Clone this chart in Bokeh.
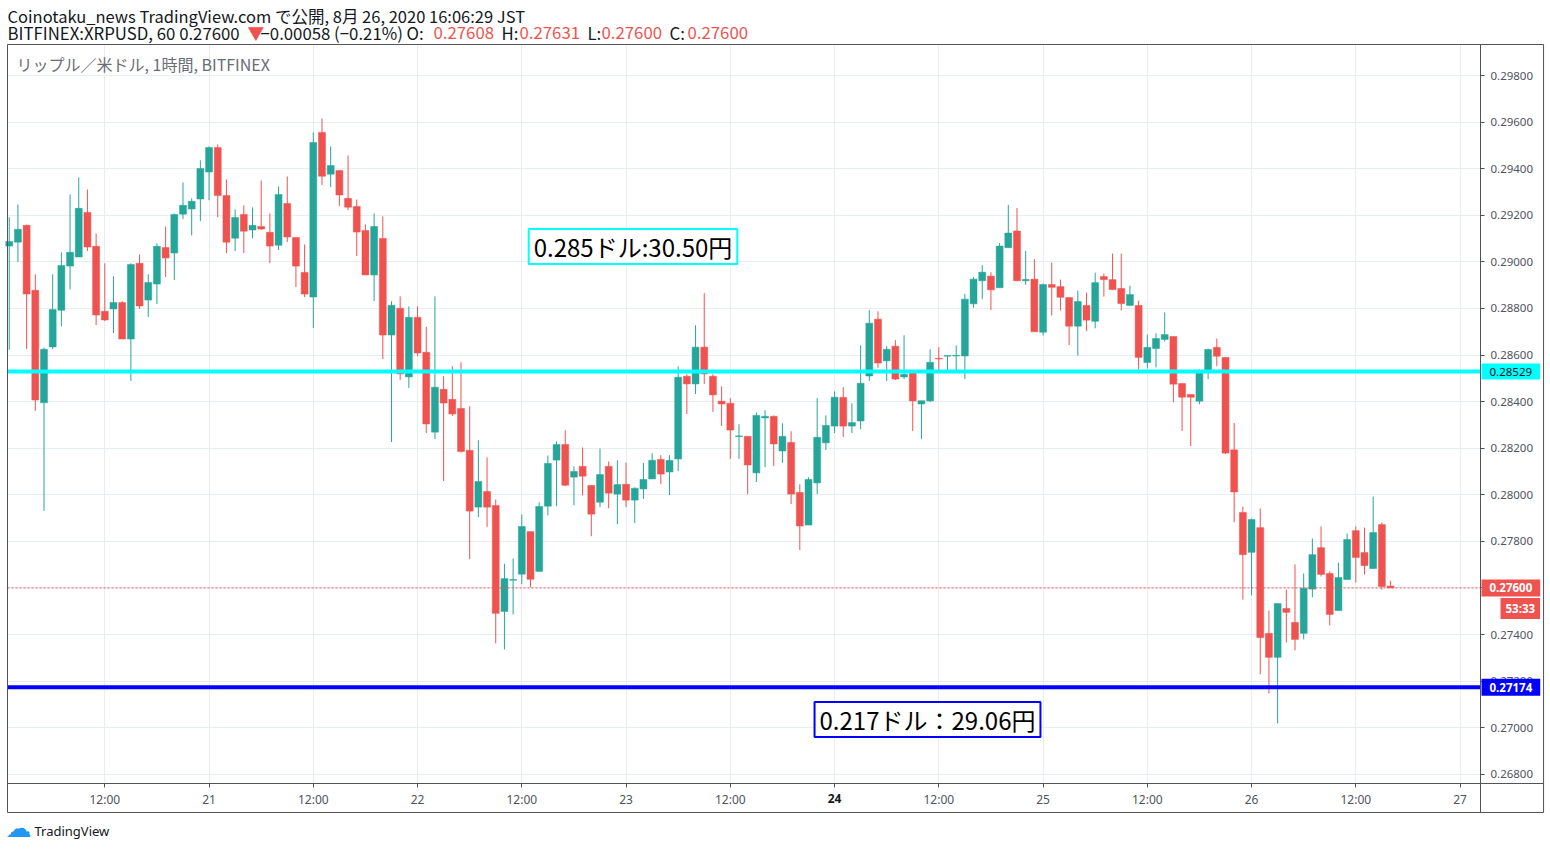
from bokeh.plotting import figure
from bokeh.models import (Range1d, FixedTicker, Label, BoxAnnotation,
                          ColumnDataSource, PrintfTickFormatter)
from bokeh.embed import file_html
from bokeh.resources import INLINE

# hour index since 2020-08-20 00:00 JST (1h candles, open time)
hours = list(range(1, 161))

opens = [0.29068, 0.29085, 0.29157, 0.28878, 0.28395, 0.28635, 0.28792, 0.28982, 0.29021, 0.29212,
         0.29067, 0.28788, 0.28798, 0.28826, 0.28669, 0.28994, 0.28836, 0.28905, 0.29062, 0.29038,
         0.29205, 0.29227, 0.29270, 0.29386, 0.29491, 0.29285, 0.29102, 0.29204, 0.29137, 0.29152,
         0.29127, 0.29072, 0.29251, 0.29105, 0.28955, 0.28849, 0.29556, 0.29377, 0.29393, 0.29273,
         0.29238, 0.29135, 0.28944, 0.29101, 0.28686, 0.28801, 0.28506, 0.28762, 0.28612, 0.28269,
         0.28453, 0.28410, 0.28371, 0.28191, 0.27947, 0.28014, 0.27954, 0.27499, 0.27633, 0.27659,
         0.27842, 0.27671, 0.27951, 0.28149, 0.28216, 0.28076, 0.28122, 0.28040, 0.27968, 0.28122,
         0.28003, 0.28045, 0.27977, 0.28025, 0.28068, 0.28152, 0.28098, 0.28154, 0.28509, 0.28476,
         0.28634, 0.28509, 0.28402, 0.28393, 0.28250, 0.28251, 0.28094, 0.28330, 0.28337, 0.28188,
         0.28225, 0.28010, 0.27870, 0.28051, 0.28223, 0.28295, 0.28418, 0.28295, 0.28317, 0.28510,
         0.28754, 0.28575, 0.28638, 0.28506, 0.28526, 0.28390, 0.28403, 0.28586, 0.28595, 0.28596,
         0.28596, 0.28820, 0.28919, 0.28939, 0.28889, 0.29061, 0.29133, 0.28919, 0.28926, 0.28698,
         0.28903, 0.28894, 0.28847, 0.28724, 0.28813, 0.28745, 0.28937, 0.28924, 0.28886, 0.28813,
         0.28813, 0.28568, 0.28628, 0.28667, 0.28680, 0.28478, 0.28431, 0.28402, 0.28535, 0.28633,
         0.28590, 0.28193, 0.27924, 0.27753, 0.27859, 0.27405, 0.27302, 0.27512, 0.27452, 0.27405,
         0.27595, 0.27773, 0.27662, 0.27503, 0.27636, 0.27846, 0.27752, 0.27683, 0.27872, 0.27608]
highs = [0.29192, 0.29247, 0.29160, 0.28947, 0.28632, 0.28947, 0.29041, 0.29290, 0.29363, 0.29311,
         0.29122, 0.28994, 0.28938, 0.28831, 0.28994, 0.29032, 0.28947, 0.29080, 0.29152, 0.29208,
         0.29341, 0.29273, 0.29436, 0.29496, 0.29504, 0.29354, 0.29225, 0.29243, 0.29234, 0.29350,
         0.29208, 0.29324, 0.29367, 0.29105, 0.29075, 0.29556, 0.29616, 0.29496, 0.29393, 0.29457,
         0.29268, 0.29161, 0.29208, 0.29195, 0.28831, 0.28852, 0.28809, 0.28809, 0.28721, 0.28852,
         0.28509, 0.28552, 0.28569, 0.28380, 0.28234, 0.28160, 0.27980, 0.27704, 0.27726, 0.27915,
         0.27842, 0.27968, 0.28169, 0.28229, 0.28277, 0.28122, 0.28203, 0.28040, 0.28199, 0.28143,
         0.28148, 0.28138, 0.28032, 0.28137, 0.28178, 0.28170, 0.28170, 0.28552, 0.28518, 0.28728,
         0.28866, 0.28518, 0.28466, 0.28415, 0.28303, 0.28251, 0.28354, 0.28363, 0.28341, 0.28307,
         0.28273, 0.28045, 0.28075, 0.28415, 0.28341, 0.28444, 0.28462, 0.28393, 0.28642, 0.28793,
         0.28788, 0.28638, 0.28664, 0.28685, 0.28535, 0.28404, 0.28625, 0.28634, 0.28598, 0.28642,
         0.28862, 0.28935, 0.28986, 0.28956, 0.29081, 0.29245, 0.29232, 0.29047, 0.29012, 0.28907,
         0.28997, 0.28924, 0.28847, 0.28877, 0.28868, 0.28954, 0.28950, 0.29036, 0.29036, 0.28898,
         0.28834, 0.28688, 0.28693, 0.28783, 0.28680, 0.28478, 0.28431, 0.28538, 0.28628, 0.28671,
         0.28590, 0.28308, 0.27949, 0.27898, 0.27941, 0.27503, 0.27533, 0.27593, 0.27701, 0.27662,
         0.27812, 0.27864, 0.27671, 0.27709, 0.27834, 0.27864, 0.27859, 0.27992, 0.27881, 0.27631]
lows = [0.28623, 0.29000, 0.28626, 0.28360, 0.27931, 0.28626, 0.28723, 0.28882, 0.29021, 0.29047,
        0.28729, 0.28746, 0.28695, 0.28669, 0.28489, 0.28798, 0.28763, 0.28819, 0.28935, 0.28922,
        0.29184, 0.29114, 0.29175, 0.29265, 0.29192, 0.29038, 0.29047, 0.29038, 0.29102, 0.29137,
        0.28995, 0.29051, 0.29085, 0.28892, 0.28849, 0.28716, 0.29330, 0.29321, 0.29240, 0.29222,
        0.29025, 0.28944, 0.28832, 0.28583, 0.28227, 0.28493, 0.28459, 0.28596, 0.28265, 0.28239,
        0.28059, 0.28338, 0.28182, 0.27723, 0.27904, 0.27861, 0.27362, 0.27336, 0.27486, 0.27616,
        0.27603, 0.27671, 0.27912, 0.27951, 0.28037, 0.27955, 0.27997, 0.27822, 0.27947, 0.27942,
        0.27874, 0.27947, 0.27879, 0.27982, 0.28068, 0.28046, 0.27999, 0.28102, 0.28347, 0.28433,
        0.28476, 0.28356, 0.28296, 0.28154, 0.28154, 0.28003, 0.28055, 0.28119, 0.28124, 0.28137,
        0.27960, 0.27763, 0.27870, 0.28003, 0.28192, 0.28265, 0.28248, 0.28265, 0.28282, 0.28489,
        0.28545, 0.28489, 0.28493, 0.28497, 0.28274, 0.28239, 0.28398, 0.28527, 0.28527, 0.28523,
        0.28497, 0.28803, 0.28840, 0.28793, 0.28889, 0.29061, 0.28919, 0.28902, 0.28700, 0.28685,
        0.28770, 0.28791, 0.28643, 0.28598, 0.28703, 0.28715, 0.28851, 0.28881, 0.28791, 0.28813,
        0.28538, 0.28542, 0.28547, 0.28658, 0.28398, 0.28274, 0.28209, 0.28389, 0.28497, 0.28552,
        0.28175, 0.27882, 0.27550, 0.27568, 0.27229, 0.27147, 0.27018, 0.27366, 0.27332, 0.27379,
        0.27560, 0.27649, 0.27439, 0.27503, 0.27636, 0.27623, 0.27658, 0.27683, 0.27593, 0.27600]
closes = [0.29088, 0.29140, 0.28862, 0.28407, 0.28625, 0.28796, 0.28985, 0.29041, 0.29230, 0.29064,
          0.28772, 0.28751, 0.28826, 0.28669, 0.28989, 0.28811, 0.28912, 0.29067, 0.29017, 0.29204,
          0.29243, 0.29260, 0.29401, 0.29491, 0.29285, 0.29085, 0.29191, 0.29132, 0.29157, 0.29141,
          0.29068, 0.29290, 0.29107, 0.28982, 0.28862, 0.29513, 0.29368, 0.29414, 0.29287, 0.29235,
          0.29128, 0.28944, 0.29152, 0.28686, 0.28814, 0.28519, 0.28762, 0.28609, 0.28304, 0.28462,
          0.28394, 0.28347, 0.28186, 0.27930, 0.28057, 0.27947, 0.27491, 0.27640, 0.27636, 0.27864,
          0.27637, 0.27950, 0.28135, 0.28216, 0.28041, 0.28100, 0.28080, 0.27917, 0.28087, 0.28007,
          0.28044, 0.27977, 0.28028, 0.28066, 0.28148, 0.28089, 0.28148, 0.28505, 0.28476, 0.28634,
          0.28519, 0.28429, 0.28390, 0.28278, 0.28253, 0.28128, 0.28341, 0.28337, 0.28218, 0.28251,
          0.28003, 0.27866, 0.28066, 0.28247, 0.28298, 0.28419, 0.28295, 0.28310, 0.28479, 0.28737,
          0.28566, 0.28625, 0.28497, 0.28517, 0.28403, 0.28404, 0.28569, 0.28583, 0.28598, 0.28599,
          0.28840, 0.28926, 0.28956, 0.28880, 0.29068, 0.29124, 0.28919, 0.28925, 0.28700, 0.28903,
          0.28891, 0.28848, 0.28724, 0.28830, 0.28750, 0.28911, 0.28924, 0.28881, 0.28821, 0.28860,
          0.28590, 0.28633, 0.28671, 0.28688, 0.28475, 0.28419, 0.28419, 0.28530, 0.28624, 0.28595,
          0.28179, 0.28012, 0.27743, 0.27894, 0.27387, 0.27302, 0.27533, 0.27495, 0.27379, 0.27599,
          0.27743, 0.27658, 0.27486, 0.27645, 0.27808, 0.27731, 0.27696, 0.27838, 0.27606, 0.27600]

resistance_price = 0.28529
support_price = 0.27174
last_price = 0.27600

x_tick_hours = [12, 24, 36, 48, 60, 72, 84, 96, 108, 120, 132, 144, 156, 168]
x_tick_labels = ["12:00", "21", "12:00", "22", "12:00", "23", "12:00", "24",
                 "12:00", "25", "12:00", "26", "12:00", "27"]
y_ticks = [0.268, 0.270, 0.272, 0.274, 0.276, 0.278, 0.280, 0.282,
           0.284, 0.286, 0.288, 0.290, 0.292, 0.294, 0.296, 0.298]

# layout of the TradingView pane (data units of the two scales)
PANE_LEFT, PANE_RIGHT, BOX_RIGHT = 0.80, 170.35, 177.61
PANE_TOP, PANE_BOTTOM, BOX_BOTTOM = 0.299337, 0.267602, 0.266357
TAG_X = 170.47

UP = "#26a69a"
DOWN = "#ef5350"
TXT = "#131722"
AXC = "#50535e"
GRID = "#e6edf3"
LAT = "Noto Sans"
JP = "Noto Sans CJK JP"
W, H = 1548, 847

colors = [UP if c >= o else DOWN for o, c in zip(opens, closes)]
tops = [max(o, c) for o, c in zip(opens, closes)]
bots = [min(o, c) for o, c in zip(opens, closes)]
min_body = 0.00003
tops = [t if t - b >= min_body else b + min_body for t, b in zip(tops, bots)]

src = ColumnDataSource(dict(x=hours, o=opens, h=highs, l=lows, c=closes,
                            top=tops, bottom=bots, color=colors))

p = figure(frame_width=W, frame_height=H,
           min_border_left=0, min_border_top=0, min_border_right=0, min_border_bottom=0,
           x_range=Range1d(-0.006, 178.18), y_range=Range1d(0.264854, 0.301226),
           y_axis_location="right", output_backend="svg", toolbar_location=None)
p.background_fill_color = "white"
p.border_fill_color = "white"
p.outline_line_color = None

# grid
p.xgrid.ticker = FixedTicker(ticks=x_tick_hours)
p.ygrid.ticker = FixedTicker(ticks=y_ticks)
p.xgrid.grid_line_color = GRID
p.ygrid.grid_line_color = GRID

# white masks so the grid stays inside the price pane
for kw in (dict(left=PANE_RIGHT), dict(right=PANE_LEFT), dict(top=PANE_BOTTOM), dict(bottom=PANE_TOP)):
    p.add_layout(BoxAnnotation(fill_color="white", fill_alpha=1, line_color=None,
                               level="underlay", **kw))

# x axis (time scale) drawn at the pane bottom
p.xaxis.fixed_location = PANE_BOTTOM
p.xaxis.bounds = (PANE_LEFT, BOX_RIGHT)
p.xaxis.ticker = FixedTicker(ticks=x_tick_hours)
p.xaxis.major_label_overrides = {h: (lab if lab != "24" else "") for h, lab in zip(x_tick_hours, x_tick_labels)}
p.xaxis.axis_line_color = AXC
p.xaxis.major_tick_line_color = AXC
p.xaxis.major_tick_out = 4
p.xaxis.major_tick_in = 0
p.xaxis.minor_tick_line_color = None
p.xaxis.major_label_text_font = LAT
p.xaxis.major_label_text_font_size = "12px"
p.xaxis.major_label_text_color = AXC
p.xaxis.major_label_standoff = 3

# y axis (price scale) drawn at the pane right edge
p.yaxis.fixed_location = PANE_RIGHT
p.yaxis.bounds = (BOX_BOTTOM, PANE_TOP)
p.yaxis.ticker = FixedTicker(ticks=y_ticks)
p.yaxis.formatter = PrintfTickFormatter(format="%.5f")
p.yaxis.axis_line_color = AXC
p.yaxis.major_tick_line_color = AXC
p.yaxis.major_tick_out = 4
p.yaxis.major_tick_in = 0
p.yaxis.minor_tick_line_color = None
p.yaxis.major_label_text_font = LAT
p.yaxis.major_label_text_font_size = "11.5px"
p.yaxis.major_label_text_color = AXC
p.yaxis.major_label_standoff = 6

# outer border of the chart
p.add_layout(BoxAnnotation(left=PANE_LEFT, right=BOX_RIGHT, top=PANE_TOP, bottom=BOX_BOTTOM,
                           fill_color=None, line_color=AXC, line_width=1, line_alpha=1))

# candles
p.segment(x0="x", y0="h", x1="x", y1="l", source=src, line_color="color", line_width=1)
p.vbar(x="x", width=0.8, top="top", bottom="bottom", source=src,
       fill_color="color", line_color="color", line_width=0.5)

# horizontal lines across the pane
hl = ColumnDataSource(dict(y=[resistance_price, support_price],
                           x0=[PANE_LEFT, PANE_LEFT], x1=[PANE_RIGHT, PANE_RIGHT],
                           color=["#00ffff", "#0000ff"]))
p.segment(x0="x0", y0="y", x1="x1", y1="y", source=hl, line_color="color", line_width=4)
p.segment(x0=[PANE_LEFT], y0=[last_price], x1=[PANE_RIGHT], y1=[last_price],
          line_color=DOWN, line_width=1, line_dash="2 2")

# price tags on the scale
def tag(y, text, bg, fg, bold):
    p.add_layout(Label(x=TAG_X, y=y, text=text, text_align="left", text_baseline="middle",
                       text_font=LAT, text_font_size="11.5px",
                       text_font_style="bold" if bold else "normal", text_color=fg,
                       background_fill_color=bg, padding=(8, 4)))

tag(resistance_price, "0.28529", "#00ffff", TXT, False)
tag(last_price, "0.27600", DOWN, "white", True)
tag(support_price, "0.27174", "#0000ff", "white", True)
p.add_layout(Label(x=1500, y=H - 608, x_units="screen", y_units="screen", text="53:33",
                   text_align="left", text_baseline="middle", text_font=LAT,
                   text_font_size="11.5px", text_font_style="bold", text_color="white",
                   background_fill_color=DOWN, padding=(5, 3)))

# bold Monday label on the time scale
p.add_layout(Label(x=96, y=H - 798, y_units="screen", text="24", text_align="center",
                   text_baseline="middle", text_font=LAT, text_font_size="12px",
                   text_font_style="bold", text_color=TXT))

# annotation boxes
p.add_layout(Label(x=632.5, y=H - 246, x_units="screen", y_units="screen",
                   text="0.285ドル:30.50円", text_align="center", text_baseline="middle",
                   text_font=JP, text_font_size="24px", text_color="black",
                   background_fill_color="white", border_line_color="#00ffff",
                   border_line_width=2, padding=(5, 0)))
p.add_layout(Label(x=927, y=H - 719, x_units="screen", y_units="screen",
                   text="0.217ドル：29.06円", text_align="center", text_baseline="middle",
                   text_font=JP, text_font_size="24px", text_color="black",
                   background_fill_color="white", border_line_color="#0000ff",
                   border_line_width=2, padding=(5, 0)))

# pane legend
p.add_layout(Label(x=16, y=H - 63, x_units="screen", y_units="screen",
                   text="リップル／米ドル, 1時間, BITFINEX", text_align="left",
                   text_baseline="middle", text_font=JP, text_font_size="16px",
                   text_color="#6a6d78"))

# header
p.add_layout(Label(x=7, y=H - 15, x_units="screen", y_units="screen",
                   text="Coinotaku_news TradingView.com で公開, 8月 26, 2020 16:06:29 JST",
                   text_align="left", text_baseline="middle", text_font=JP,
                   text_font_size="16.5px", text_color=TXT))
segs = [(7, "BITFINEX:XRPUSD, 60 0.27600", TXT), (247, "▼", DOWN),
        (260, "−0.00058 (−0.21%) O:", TXT), (433, "0.27608", DOWN),
        (501, "H:", TXT), (519, "0.27631", DOWN), (587, "L:", TXT),
        (601, "0.27600", DOWN), (669, "C:", TXT), (687, "0.27600", DOWN)]
for sx, t, col in segs:
    p.add_layout(Label(x=sx, y=H - 32, x_units="screen", y_units="screen", text=t,
                       text_align="left", text_baseline="middle", text_font=JP,
                       text_font_size="16.8px", text_color=col))

# footer logo
p.add_layout(Label(x=5, y=H - 827, x_units="screen", y_units="screen", text="☁",
                   text_align="left", text_baseline="middle", text_font="DejaVu Sans",
                   text_font_size="26px", text_color="#2196f3"))
p.add_layout(Label(x=34, y=H - 830, x_units="screen", y_units="screen", text="TradingView",
                   text_align="left", text_baseline="middle", text_font=LAT,
                   text_font_size="13px", text_color=TXT))

open("out.html", "w").write(file_html(p, INLINE))
